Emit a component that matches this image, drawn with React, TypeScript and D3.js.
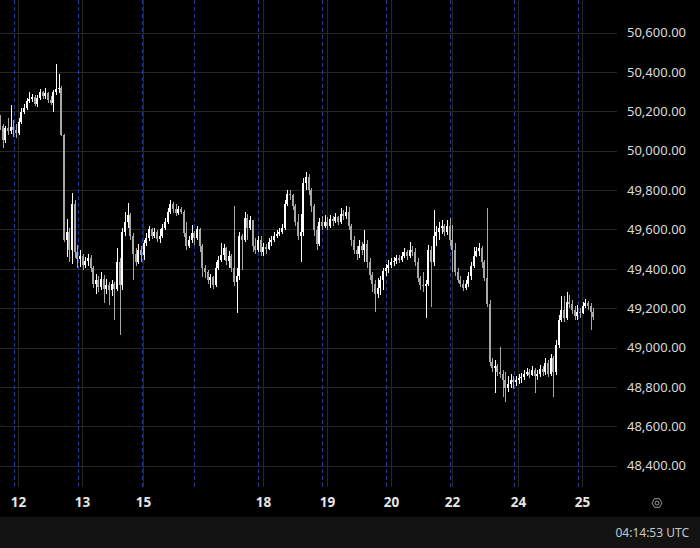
import React from "react";
import * as d3 from "d3";

// [open, high, low, close] per hourly bar
const ohlc: number[][] = [
  [50156, 50182, 50106, 50126], [50126, 50136, 50014, 50055], [50055, 50126, 50040, 50116], [50116, 50167, 50080, 50101],
  [50101, 50233, 50085, 50121], [50121, 50156, 50070, 50106], [50106, 50136, 50065, 50090], [50090, 50167, 50080, 50146],
  [50146, 50217, 50136, 50197], [50197, 50238, 50187, 50217], [50217, 50268, 50207, 50253], [50253, 50299, 50243, 50263],
  [50263, 50289, 50248, 50273], [50273, 50283, 50228, 50238], [50238, 50283, 50222, 50268], [50268, 50314, 50258, 50299],
  [50299, 50304, 50263, 50278], [50278, 50319, 50263, 50294], [50294, 50299, 50243, 50258], [50258, 50278, 50233, 50243],
  [50243, 50309, 50197, 50299], [50299, 50441, 50283, 50314], [50314, 50390, 50294, 50319], [50319, 50329, 50075, 50080],
  [50080, 50085, 49537, 49547], [49547, 49654, 49460, 49587], [49587, 49608, 49435, 49496], [49496, 49786, 49425, 49730],
  [49730, 49750, 49455, 49486], [49486, 49521, 49405, 49450], [49450, 49496, 49410, 49466], [49466, 49476, 49394, 49420],
  [49420, 49460, 49405, 49440], [49440, 49476, 49415, 49455], [49455, 49471, 49384, 49405], [49405, 49415, 49303, 49323],
  [49323, 49374, 49273, 49344], [49344, 49364, 49283, 49308], [49308, 49384, 49293, 49349], [49349, 49369, 49227, 49298],
  [49298, 49349, 49273, 49318], [49318, 49333, 49217, 49293], [49293, 49344, 49262, 49323], [49323, 49333, 49140, 49298],
  [49298, 49506, 49288, 49435], [49435, 49455, 49064, 49318], [49318, 49608, 49293, 49587], [49587, 49689, 49567, 49638],
  [49638, 49735, 49608, 49674], [49674, 49684, 49547, 49567], [49567, 49582, 49344, 49476], [49476, 49506, 49415, 49435],
  [49435, 49526, 49425, 49496], [49496, 49516, 49435, 49471], [49471, 49547, 49445, 49532], [49532, 49582, 49516, 49557],
  [49557, 49618, 49542, 49603], [49603, 49608, 49552, 49567], [49567, 49608, 49557, 49587], [49587, 49598, 49537, 49552],
  [49552, 49603, 49532, 49567], [49567, 49628, 49557, 49608], [49608, 49659, 49598, 49638], [49638, 49709, 49628, 49689],
  [49689, 49750, 49679, 49730], [49730, 49740, 49684, 49704], [49704, 49730, 49669, 49684], [49684, 49720, 49674, 49704],
  [49704, 49714, 49679, 49689], [49689, 49699, 49562, 49582], [49582, 49638, 49496, 49516], [49516, 49567, 49506, 49547],
  [49547, 49623, 49532, 49582], [49582, 49592, 49521, 49557], [49557, 49618, 49547, 49603], [49603, 49608, 49486, 49516],
  [49516, 49526, 49359, 49405], [49405, 49420, 49354, 49384], [49384, 49394, 49323, 49344], [49344, 49374, 49303, 49359],
  [49359, 49364, 49298, 49318], [49318, 49435, 49308, 49405], [49405, 49466, 49394, 49445], [49445, 49532, 49435, 49471],
  [49471, 49526, 49445, 49506], [49506, 49511, 49420, 49440], [49440, 49491, 49405, 49466], [49466, 49476, 49384, 49405],
  [49405, 49720, 49313, 49333], [49333, 49405, 49176, 49364], [49364, 49587, 49344, 49567], [49567, 49577, 49394, 49547],
  [49547, 49689, 49537, 49659], [49659, 49679, 49547, 49608], [49608, 49669, 49598, 49648], [49648, 49648, 49486, 49516],
  [49516, 49557, 49476, 49496], [49496, 49567, 49486, 49547], [49547, 49567, 49466, 49486], [49486, 49532, 49466, 49511],
  [49511, 49526, 49476, 49501], [49501, 49557, 49496, 49537], [49537, 49567, 49516, 49547], [49547, 49587, 49537, 49567],
  [49567, 49598, 49557, 49577], [49577, 49608, 49567, 49587], [49587, 49628, 49577, 49608], [49608, 49750, 49598, 49730],
  [49730, 49801, 49720, 49781], [49781, 49801, 49750, 49775], [49775, 49781, 49699, 49720], [49720, 49730, 49618, 49638],
  [49638, 49679, 49547, 49567], [49567, 49679, 49435, 49587], [49587, 49862, 49567, 49836], [49836, 49892, 49801, 49867],
  [49867, 49882, 49775, 49801], [49801, 49811, 49689, 49720], [49720, 49730, 49567, 49598], [49598, 49618, 49496, 49526],
  [49526, 49659, 49516, 49638], [49638, 49669, 49598, 49618], [49618, 49674, 49608, 49638], [49638, 49664, 49598, 49618],
  [49618, 49674, 49608, 49654], [49654, 49669, 49618, 49643], [49643, 49684, 49633, 49664], [49664, 49669, 49623, 49638],
  [49638, 49709, 49628, 49679], [49679, 49699, 49648, 49669], [49669, 49720, 49654, 49689], [49689, 49714, 49598, 49618],
  [49618, 49628, 49516, 49547], [49547, 49567, 49476, 49496], [49496, 49516, 49445, 49476], [49476, 49547, 49455, 49516],
  [49516, 49537, 49471, 49496], [49496, 49598, 49435, 49526], [49526, 49547, 49405, 49435], [49435, 49455, 49344, 49369],
  [49369, 49384, 49283, 49323], [49323, 49344, 49181, 49273], [49273, 49354, 49252, 49303], [49303, 49364, 49267, 49344],
  [49344, 49405, 49293, 49389], [49389, 49425, 49364, 49405], [49405, 49445, 49379, 49420], [49420, 49455, 49405, 49435],
  [49435, 49460, 49415, 49440], [49440, 49471, 49425, 49455], [49455, 49471, 49430, 49445], [49445, 49486, 49435, 49466],
  [49466, 49506, 49455, 49486], [49486, 49496, 49445, 49466], [49466, 49537, 49455, 49496], [49496, 49516, 49466, 49486],
  [49486, 49506, 49415, 49435], [49435, 49455, 49333, 49354], [49354, 49364, 49293, 49318], [49318, 49384, 49283, 49313],
  [49313, 49344, 49151, 49323], [49323, 49521, 49313, 49496], [49496, 49516, 49206, 49435], [49435, 49699, 49415, 49567],
  [49567, 49618, 49516, 49587], [49587, 49638, 49547, 49608], [49608, 49648, 49577, 49618], [49618, 49628, 49567, 49587],
  [49587, 49648, 49572, 49618], [49618, 49659, 49516, 49547], [49547, 49623, 49384, 49496], [49496, 49532, 49364, 49384],
  [49384, 49405, 49328, 49344], [49344, 49364, 49308, 49323], [49323, 49344, 49288, 49303], [49303, 49344, 49293, 49323],
  [49323, 49384, 49308, 49364], [49364, 49435, 49344, 49415], [49415, 49511, 49405, 49466], [49466, 49511, 49460, 49491],
  [49491, 49532, 49466, 49506], [49506, 49516, 49405, 49435], [49435, 49445, 49339, 49354], [49354, 49709, 49206, 49222],
  [49222, 49242, 48907, 48927], [48927, 48947, 48876, 48897], [48897, 48937, 48770, 48907], [48907, 48917, 48856, 48876],
  [48876, 49003, 48846, 48866], [48866, 48886, 48749, 48836], [48836, 48876, 48724, 48795], [48795, 48856, 48775, 48815],
  [48815, 48866, 48795, 48836], [48836, 48856, 48790, 48825], [48825, 48856, 48805, 48836], [48836, 48866, 48815, 48846],
  [48846, 48871, 48820, 48851], [48851, 48886, 48836, 48866], [48866, 48897, 48856, 48876], [48876, 48891, 48846, 48861],
  [48861, 48907, 48856, 48886], [48886, 48897, 48770, 48856], [48856, 48886, 48836, 48866], [48866, 48912, 48851, 48891],
  [48891, 48907, 48856, 48876], [48876, 48947, 48861, 48922], [48922, 48937, 48851, 48866], [48866, 48968, 48856, 48947],
  [48947, 48958, 48749, 48876], [48876, 49039, 48861, 49013], [49013, 49166, 48998, 49140], [49140, 49262, 49130, 49191],
  [49191, 49262, 49130, 49151], [49151, 49283, 49140, 49232], [49232, 49267, 49201, 49222], [49222, 49242, 49171, 49191],
  [49191, 49212, 49140, 49161], [49161, 49217, 49140, 49181], [49181, 49201, 49151, 49176], [49176, 49232, 49171, 49212],
  [49212, 49247, 49201, 49227], [49227, 49237, 49191, 49212], [49212, 49227, 49090, 49181], [49181, 49201, 49140, 49156],
];

const priceTicks = [48400, 48600, 48800, 49000, 49200, 49400, 49600, 49800, 50000, 50200, 50400, 50600];
const sessionBreaks = [5.5, 29.5, 53.5, 73.3, 97.3, 121.5, 145.5, 169.5, 193.5, 217.5];
const timeTickBars = [7, 31, 54, 99, 123, 147, 170, 195, 219];
const timeTickLabels = ["12", "13", "15", "18", "19", "20", "22", "24", "25"];
const clockText = "04:14:53 UTC";

const W = 700;
const H = 548;
const paneRight = 617;
const paneBottom = 487;
const footerTop = 517;

export default function App() {
  const x = d3.scaleLinear().domain([0, 223]).range([0.07, 0.07 + 223 * 2.66]);
  const y = d3.scaleLinear().domain([48400, 50400]).range([465.7, 72]);
  const fmt = d3.format(",.2f");
  const up = "#ffffff";
  const down = "#a8a8a8";
  const font = "'Noto Sans', 'Open Sans', sans-serif";
  const px = (v: number) => Math.floor(v) + 0.5;

  return (
    <div style={{ position: "fixed", left: 0, top: 0, width: W, height: H, background: "#000" }}>
      <svg width={W} height={H} style={{ display: "block" }} shapeRendering="crispEdges">
        <rect x={0} y={0} width={W} height={H} fill="#000" />
        {/* horizontal grid */}
        {priceTicks.map((p) => (
          <line key={"h" + p} x1={0} x2={paneRight} y1={Math.round(y(p)) + 0.5} y2={Math.round(y(p)) + 0.5}
            stroke="#262626" strokeWidth={1} />
        ))}
        {/* vertical grid at time ticks */}
        {timeTickBars.map((b) => (
          <line key={"v" + b} x1={px(x(b))} x2={px(x(b))} y1={0} y2={paneBottom}
            stroke="#262626" strokeWidth={1} />
        ))}
        {/* session breaks */}
        {sessionBreaks.map((b) => (
          <line key={"s" + b} x1={px(x(b) - 0.3)} x2={px(x(b) - 0.3)} y1={0} y2={paneBottom}
            stroke="#2962ff" strokeOpacity={0.6} strokeWidth={1} strokeDasharray="4 3" />
        ))}
        {/* candles */}
        {ohlc.map((d, i) => {
          const [o, h, l, c] = d;
          const cx = Math.round(x(i));
          const col = c >= o ? up : down;
          const top = Math.round(y(Math.max(o, c)));
          const bot = Math.round(y(Math.min(o, c)));
          const wt = Math.round(y(h));
          const wb = Math.round(y(l));
          return (
            <g key={"c" + i}>
              <rect x={cx} y={wt} width={1} height={Math.max(1, wb - wt)} fill={col} />
              <rect x={cx - 1} y={top} width={2} height={Math.max(1, bot - top)} fill={col} />
            </g>
          );
        })}
        {/* price axis labels */}
        <g shapeRendering="auto">
          {priceTicks.map((p) => (
            <text key={"pl" + p} x={627} y={y(p)} dy="0.36em" fill="#dbdbdb" fontSize={13} fontFamily={font}>
              {fmt(p)}
            </text>
          ))}
          {/* time axis labels */}
          {timeTickBars.map((b, i) => (
            <text key={"tl" + b} x={px(x(b))} y={502.5} dy="0.36em" textAnchor="middle" fill="#e6e6e6"
              fontSize={13.5} fontWeight={700} fontFamily={font}>
              {timeTickLabels[i]}
            </text>
          ))}
          {/* settings icon */}
          <g transform="translate(657,503)" fill="none" stroke="#9a9a9a" strokeWidth={1}>
            <polygon points={d3.range(6).map((k) => {
              const a = (Math.PI / 3) * k;
              return `${(5 * Math.cos(a)).toFixed(2)},${(5 * Math.sin(a)).toFixed(2)}`;
            }).join(" ")} />
            <circle r={2} />
          </g>
        </g>
        {/* footer */}
        <rect x={0} y={footerTop} width={W} height={H - footerTop} fill="#131313" />
        <text x={689} y={533} dy="0.36em" textAnchor="end" fill="#c8c8c8" fontSize={12} fontFamily={font}
          shapeRendering="auto">
          {clockText}
        </text>
      </svg>
    </div>
  );
}
